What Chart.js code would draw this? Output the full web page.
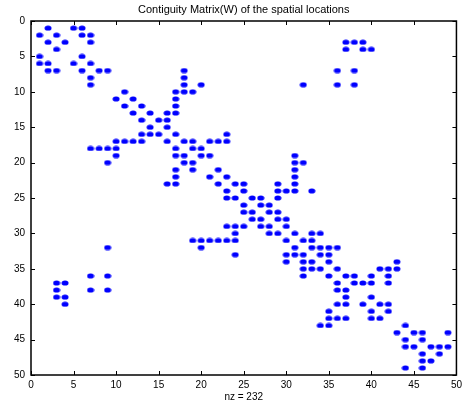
<!DOCTYPE html>
<html>
<head>
<meta charset="utf-8">
<script src="https://cdn.jsdelivr.net/npm/chart.js@4/dist/chart.umd.min.js"></script>
<style>
  html, body { margin: 0; padding: 0; background: #fff; }
  #wrap { width: 466px; height: 406px; }
</style>
</head>
<body>
<div id="wrap"><canvas id="spy" width="466" height="406"></canvas></div>
<script>
// Nonzero columns of each row of W (row 1 first)
const neighbors = [
    [2, 5, 6],
    [1, 3, 6, 7],
    [2, 4, 7, 37, 38, 39],
    [3, 37, 39, 40],
    [1, 6],
    [1, 2, 5, 7],
    [2, 3, 6, 8, 9, 18, 36, 38],
    [7, 18],
    [7, 18, 20, 32, 36, 38],
    [11, 17, 18, 19],
    [10, 12, 17],
    [11, 13, 17],
    [12, 14, 16, 17],
    [13, 15, 16],
    [14, 16],
    [13, 14, 15, 17, 23],
    [10, 11, 12, 13, 16, 18, 19, 21, 22, 23],
    [7, 8, 9, 10, 17, 19, 20],
    [10, 17, 18, 20, 21, 31],
    [9, 18, 19, 31, 32],
    [17, 19, 22, 31],
    [17, 21, 23, 31],
    [16, 17, 22, 24, 25, 29, 31],
    [23, 25, 29, 30, 31, 33],
    [23, 24, 26, 27, 29],
    [25, 27, 28],
    [25, 26, 28, 29],
    [26, 27, 29, 30],
    [23, 24, 25, 27, 28, 30],
    [24, 28, 29, 31, 33, 34],
    [19, 20, 21, 22, 23, 24, 30, 32, 33],
    [9, 20, 31, 33, 34, 35, 36],
    [24, 30, 31, 32, 34, 35],
    [30, 32, 33, 35, 43],
    [32, 33, 34, 36, 41, 42, 43],
    [7, 9, 32, 35, 37, 38, 40, 42],
    [3, 4, 36, 38, 39, 40, 42],
    [3, 7, 9, 36, 37],
    [3, 4, 37, 40],
    [4, 36, 37, 39, 41, 42],
    [35, 40, 42],
    [35, 36, 37, 40, 41],
    [34, 35, 44],
    [43, 45, 46, 49],
    [44, 46],
    [44, 45, 47, 48, 49],
    [46, 48],
    [46, 47],
    [44, 46]
];
const axisMin = 0;
const axisMax = 50;
const tickStep = 5;
const chartTitle = 'Contiguity Matrix(W) of the spatial locations';

// row i, column j -> point (j, i)
const points = [];
neighbors.forEach((cols, i) => {
    cols.forEach(j => points.push({ x: j, y: i + 1 }));
});
const nzLabel = 'nz = ' + points.length;

// small blue ellipse like the matlab spy marker
function makeDot() {
    const c = document.createElement('canvas');
    c.width = 8;
    c.height = 6;
    const g = c.getContext('2d');
    g.fillStyle = '#0000ff';
    g.beginPath();
    g.ellipse(4, 3, 3.5, 2.6, 0, 0, Math.PI * 2);
    g.fill();
    return c;
}

const FONT = '"Liberation Sans", Arial, Helvetica, sans-serif';

// box, inward ticks on all four sides, title over the plot
const frame = {
    id: 'frame',
    afterDraw(chart) {
        const { ctx, chartArea: a, scales } = chart;
        ctx.save();
        ctx.strokeStyle = '#000';
        ctx.lineWidth = 1.5;
        ctx.strokeRect(a.left, a.top, a.right - a.left, a.bottom - a.top);
        ctx.lineWidth = 1;
        const len = 4;
        ctx.beginPath();
        scales.x.ticks.forEach(t => {
            const px = Math.round(scales.x.getPixelForValue(t.value)) + 0.5;
            ctx.moveTo(px, a.bottom);
            ctx.lineTo(px, a.bottom - len);
            ctx.moveTo(px, a.top);
            ctx.lineTo(px, a.top + len);
        });
        scales.y.ticks.forEach(t => {
            const py = Math.round(scales.y.getPixelForValue(t.value)) + 0.5;
            ctx.moveTo(a.left, py);
            ctx.lineTo(a.left + len, py);
            ctx.moveTo(a.right, py);
            ctx.lineTo(a.right - len, py);
        });
        ctx.stroke();

        ctx.fillStyle = '#000';
        ctx.font = '11px ' + FONT;
        ctx.textAlign = 'center';
        ctx.textBaseline = 'middle';
        ctx.fillText(chartTitle, (a.left + a.right) / 2, 10);
        ctx.restore();
    }
};

const ctx = document.getElementById('spy').getContext('2d');
new Chart(ctx, {
    type: 'scatter',
    data: {
        datasets: [{
            data: points,
            pointStyle: makeDot(),
            backgroundColor: '#0000ff',
            borderColor: '#0000ff'
        }]
    },
    options: {
        responsive: false,
        animation: false,
        devicePixelRatio: 1,
        layout: { padding: { top: 21, right: 4, left: 0, bottom: 0 } },
        plugins: {
            legend: { display: false },
            tooltip: { enabled: false },
            title: { display: false }
        },
        scales: {
            x: {
                type: 'linear',
                min: axisMin,
                max: axisMax,
                grid: { display: false, drawTicks: false },
                border: { display: false },
                ticks: {
                    stepSize: tickStep,
                    padding: 4,
                    maxRotation: 0,
                    autoSkip: false,
                    color: '#000',
                    font: { family: FONT, size: 10 }
                },
                title: {
                    display: true,
                    text: nzLabel,
                    color: '#000',
                    font: { family: FONT, size: 10 },
                    padding: { top: 0, bottom: 3 }
                },
                afterFit: s => { s.height = 31; }
            },
            y: {
                type: 'linear',
                reverse: true,
                min: axisMin,
                max: axisMax,
                grid: { display: false, drawTicks: false },
                border: { display: false },
                ticks: {
                    stepSize: tickStep,
                    padding: 6,
                    autoSkip: false,
                    color: '#000',
                    font: { family: FONT, size: 10 }
                },
                afterFit: s => { s.width = 31; }
            }
        }
    },
    plugins: [frame]
});
</script>
</body>
</html>
